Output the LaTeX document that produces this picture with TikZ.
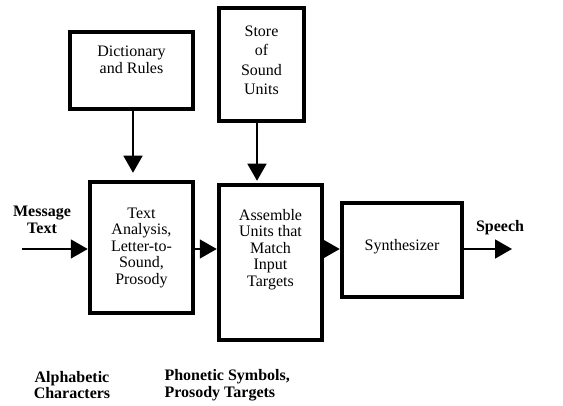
\documentclass[tikz,border=0pt]{standalone}
\usepackage{fontspec}
\setmainfont{Liberation Serif}
\usepackage{tikz}
\usetikzlibrary{positioning,arrows.meta}

\begin{document}
\begin{tikzpicture}[x=1pt, y=1pt, >={Triangle[length=17pt, width=19pt]},
    every node/.style={align=center, font=\fontsize{16}{16.5}\selectfont},
    blockbox/.style={draw, line width=4.5pt, inner sep=0pt},
    sigline/.style={->, line width=1.5pt},
    sigtext/.style={font=\fontsize{16}{16.5}\selectfont\bfseries}]
    \useasboundingbox (0,0) rectangle (563,405);

    \node[blockbox, minimum width=103pt, minimum height=131pt] (analysis) at (141.5,157.5) {Text\\Analysis,\\Letter-to-\\Sound,\\Prosody};
    \node[blockbox, minimum width=103pt, minimum height=155pt, text depth=30pt] (assemble) at (270.5,142.5) {Assemble\\Units that\\Match\\Input\\Targets};
    \node[blockbox, minimum width=120pt, minimum height=94pt, text depth=11pt] (synth) at (402,155) {Synthesizer};
    \node[blockbox, minimum width=123pt, minimum height=77pt, text depth=22pt] (dict) at (131.5,334.5) {Dictionary\\and Rules};
    \node[blockbox, minimum width=85pt, minimum height=113pt, text depth=9pt,
          font=\fontsize{16}{19.5}\selectfont] (store) at (261.5,340.5) {Store\\of\\Sound\\Units};

    \coordinate (msgin) at (22,156);
    \coordinate (spout) at (512,156);
    \node[sigtext] (msglabel) at (42,185) {Message\\Text};
    \node[sigtext] (speechlabel) at (500,177) {Speech};
    \node[sigtext] (alphalabel) at (72,20) {Alphabetic\\Characters};
    \node[sigtext, align=left, anchor=west] (phonlabel) at (161,20) {Phonetic Symbols,\\Prosody Targets};

    \draw[sigline, shorten >=7pt] ([xshift=1.5pt]dict.south) -- ([xshift=1.5pt]dict.south |- analysis.north);
    \draw[sigline, shorten >=2pt] ([xshift=-4.5pt]store.south) -- ([xshift=-4.5pt]store.south |- assemble.north);
    \draw[sigline] (msgin) -- (msgin -| analysis.west);
    \draw[sigline] (msgin -| analysis.east) -- (msgin -| assemble.west);
    \draw[sigline] (msgin -| assemble.east) -- (msgin -| synth.west);
    \draw[sigline] (msgin -| synth.east) -- (spout);
\end{tikzpicture}
\end{document}
